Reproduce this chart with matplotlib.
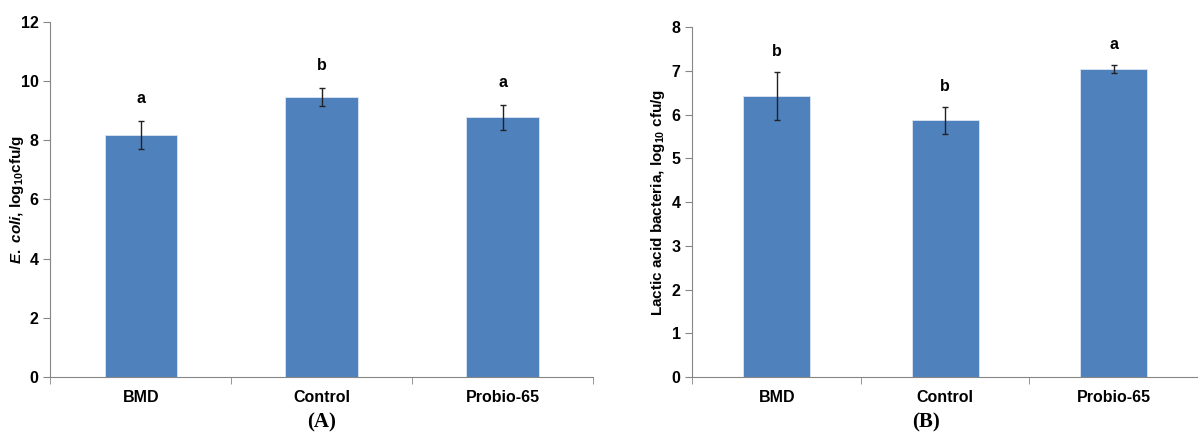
import numpy as np
import matplotlib.pyplot as plt

plt.rcParams['font.family'] = ['Liberation Sans', 'DejaVu Sans']
plt.rcParams['mathtext.fontset'] = 'custom'
plt.rcParams['mathtext.rm'] = 'Liberation Sans:bold'
plt.rcParams['mathtext.bf'] = 'Liberation Sans:bold'
plt.rcParams['mathtext.it'] = 'Liberation Sans:italic:bold'

groups = ["BMD", "Control", "Probio-65"]

ecoli = [8.18, 9.46, 8.77]
ecoli_err = [0.47, 0.31, 0.42]
ecoli_letters = ["a", "b", "a"]

lab = [6.43, 5.87, 7.05]
lab_err = [0.55, 0.31, 0.09]
lab_letters = ["b", "b", "a"]

bar_color = "#4f81bd"
axis_color = "#868686"

fig = plt.figure(figsize=(11.98, 4.37), dpi=100)
axA = fig.add_axes([0.042, 0.137, 0.453, 0.813])
axB = fig.add_axes([0.578, 0.137, 0.422, 0.801])


def draw(ax, vals, errs, letters, ymax, step, off):
    x = np.arange(len(groups))
    ax.bar(x, vals, width=0.4, color=bar_color, edgecolor="#dce6f2", linewidth=0.6, zorder=2)
    ax.errorbar(x, vals, yerr=errs, fmt="none", ecolor="#222222", elinewidth=1,
                capsize=2.5, capthick=1, zorder=3)
    for xi, v, e, t in zip(x, vals, errs, letters):
        ax.text(xi, v + e + off, t, ha="center", va="bottom", fontsize=11.5, fontweight="bold")
    ax.set_xlim(-0.5, len(groups) - 0.5)
    ax.set_ylim(0, ymax)
    ax.set_yticks(np.arange(0, ymax + 0.01, step))
    ax.set_xticks(x)
    ax.set_xticklabels(groups, fontsize=11.5, fontweight="bold")
    ax.set_xticks(np.arange(-0.5, len(groups)), minor=True)
    ax.tick_params(axis="x", which="major", length=0, pad=9)
    ax.tick_params(axis="x", which="minor", length=5, color=axis_color, direction="out")
    ax.tick_params(axis="y", length=5, color=axis_color, direction="out", labelsize=11.5)
    for lbl in ax.get_yticklabels():
        lbl.set_fontweight("bold")
    for s in ["top", "right"]:
        ax.spines[s].set_visible(False)
    for s in ["left", "bottom"]:
        ax.spines[s].set_color(axis_color)


draw(axA, ecoli, ecoli_err, ecoli_letters, 12, 2, 0.5)
axA.set_ylabel(r"$\it{E.\ coli}$, log$_{10}$cfu/g", fontsize=11, fontweight="bold")
axA.yaxis.set_label_coords(-0.045, 0.5)

draw(axB, lab, lab_err, lab_letters, 8, 1, 0.3)
axB.set_ylabel(r"Lactic acid bacteria, log$_{10}$ cfu/g", fontsize=11, fontweight="bold")
axB.yaxis.set_label_coords(-0.05, 0.5)

fig.text(0.268, 0.01, "(A)", ha="center", va="bottom", fontsize=15, fontweight="bold",
         family="Liberation Serif")
fig.text(0.773, 0.01, "(B)", ha="center", va="bottom", fontsize=15, fontweight="bold",
         family="Liberation Serif")

fig.savefig("out.png", dpi=100)
